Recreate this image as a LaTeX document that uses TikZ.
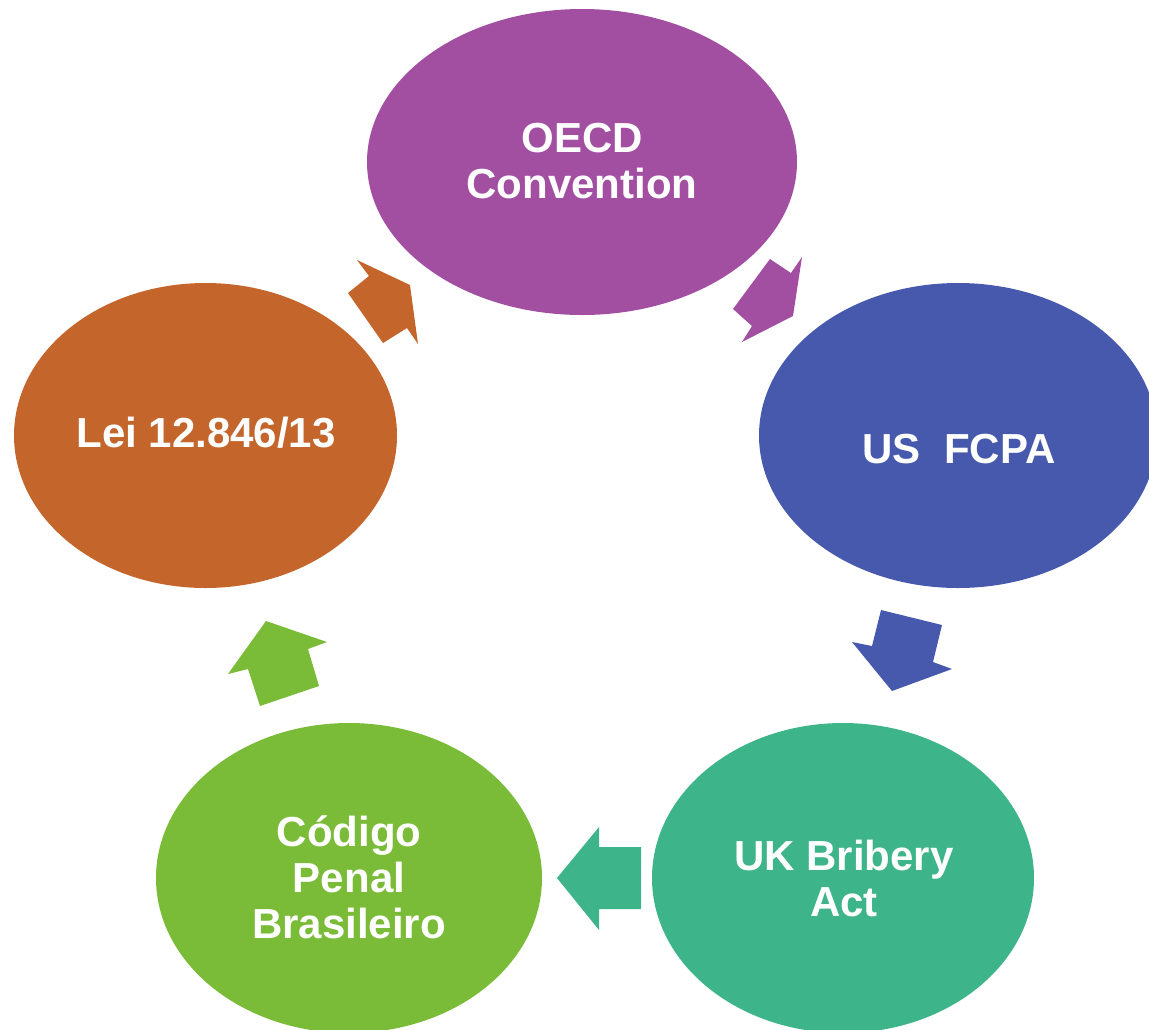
\documentclass[tikz,border=0pt]{standalone}
\usepackage{fontspec}
\setmainfont{Liberation Sans}
\usetikzlibrary{shapes.geometric}
\definecolor{cOECD}{HTML}{A24FA2}
\definecolor{cUS}{HTML}{4659AC}
\definecolor{cUK}{HTML}{3EB48A}
\definecolor{cCP}{HTML}{7ABB37}
\definecolor{cLei}{HTML}{C4662C}
\tikzset{
  blob/.style={ellipse, draw=none, inner sep=0pt},
  lbl/.style={text=white, align=center, font=\fontsize{42}{46}\selectfont\bfseries, inner sep=0pt},
}
\begin{document}
\begin{tikzpicture}[x=1pt,y=-1pt]
\useasboundingbox (0,0) rectangle (1149,1029);
\clip (0,0) rectangle (1149,1029);
% ellipses
\node[blob, fill=cOECD, minimum width=430pt, minimum height=306pt] (oecd) at (582,162) {};
\node[blob, fill=cUS, minimum width=398pt, minimum height=305pt] (us) at (958,435.5) {};
\node[blob, fill=cUK, minimum width=382pt, minimum height=310pt] (uk) at (843,878) {};
\node[blob, fill=cCP, minimum width=386pt, minimum height=310pt] (cp) at (349,878) {};
\node[blob, fill=cLei, minimum width=383pt, minimum height=305pt] (lei) at (205.5,435.5) {};
% labels
\node[lbl] (toecd) at (582,161) {OECD\\Convention};
\node[lbl] (tus) at (959,449) {US\ \ FCPA};
\node[lbl] (tuk) at (844,878) {UK Bribery\\Act};
\node[lbl] (tcp) at (349,877) {Código\\Penal\\Brasileiro};
\node[lbl] (tlei) at (206,433) {Lei 12.846/13};
% block arrows
\fill[cOECD] (770,259) -- (791,273) -- (802,257) -- (793,316) -- (742,342) -- (752,326) -- (733,309) -- cycle;
\fill[cUS] (881,610) -- (942,625) -- (933,662) -- (952,669) -- (892,691) -- (852,642) -- (872,646) -- cycle;
\fill[cUK] (599,827) -- (599,847) -- (641,847) -- (641,909) -- (599,909) -- (599,930) -- (557,878) -- cycle;
\fill[cCP] (266,621) -- (327,642) -- (308,649) -- (319,686) -- (260,706) -- (248,669) -- (228,674) -- cycle;
\fill[cLei] (357,260) -- (410,285) -- (418,344) -- (407,328) -- (383,343) -- (348,293) -- (369,276) -- cycle;
\end{tikzpicture}
\end{document}
